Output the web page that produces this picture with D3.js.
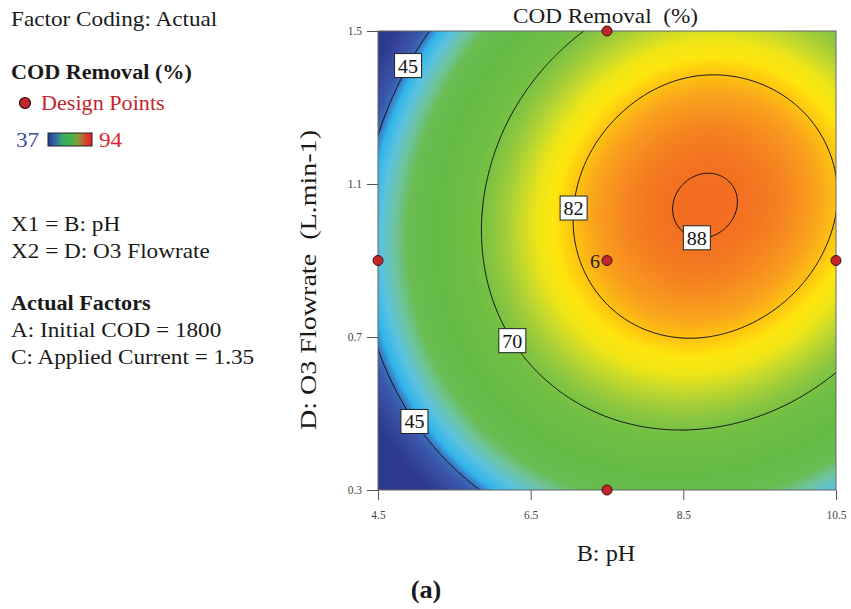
<!DOCTYPE html>
<html><head><meta charset="utf-8">
<script src="https://cdn.jsdelivr.net/npm/d3@7"></script>
<style>
body{margin:0;background:#fff;}
svg text{font-family:"Liberation Serif","Times New Roman",serif;white-space:pre;}
</style></head><body>
<svg id="chart" width="851" height="609"></svg>
<script>
// ---------------- DATA ----------------
const pHValues = [4.5, 5.5, 6.5, 7.5, 8.5, 9.5, 10.5];
const flowValues = [0.3, 0.5, 0.7, 0.9, 1.1, 1.3, 1.5];
// COD removal (%); rows follow flowValues, columns follow pHValues
const codRemoval = [
  [26.5, 41.1, 51.3, 57.3, 58.9, 56.2, 49.2],
  [38.3, 53.4, 64.1, 70.5, 72.6, 70.4, 63.9],
  [45.9, 61.4, 72.6, 79.5, 82.1, 80.3, 74.3],
  [49.1, 65.0, 76.8, 84.1, 87.2, 85.9, 80.4],
  [48.0, 64.4, 76.6, 84.5, 88.0, 87.2, 82.1],
  [42.5, 59.5, 72.2, 80.5, 84.5, 84.0, 79.0],
  [32.8, 50.2, 63.4, 72.2, 76.5, 76.0, 71.0]
];
const contourLevels = [45, 70, 82, 88];
const labelLevels = [45, 82, 88, 70, 45];
const labelPH = [4.79, 7.06, 8.70, 6.30, 5.02];
const labelFlow = [1.418, 1.035, 0.984, 0.697, 0.488];
const designPH = [4.5, 7.5, 7.5, 7.5, 10.5];
const designFlow = [0.9, 1.5, 0.9, 0.3, 0.9];
const designReplicates = [1, 1, 6, 1, 1];
const xTicks = [4.5, 6.5, 8.5, 10.5];
const yTicks = [0.3, 0.7, 1.1, 1.5];
const legendRange = [37, 94];
const sideLines = ["X1 = B: pH", "X2 = D: O3 Flowrate"];
const factorLines = ["A: Initial COD = 1800", "C: Applied Current = 1.35"];

// ---------------- STYLE ----------------
const colorStops = [37, 43, 45, 47, 50, 53, 56, 62, 68, 70, 72, 74, 76, 78, 80, 82, 84, 87, 89, 94];
const colorRange = ['#2e3a8f','#3a55a8','#3b6dbb','#30b5ea','#5cc2df','#6ec4a0','#6abd52','#65bb46','#6fbe44','#78c143','#8cc63f','#a6cf37','#c8da2b','#ede517','#ffe60d','#fdc211','#f9a01d','#f47a21','#f26522','#ed1c24'];
const color = d3.scaleLinear().domain(colorStops).range(colorRange).clamp(true).interpolate(d3.interpolateRgb);
const SX = 1.055; // horizontal text stretch

const svg = d3.select('#chart');
const plot = {left: 378, right: 836, top: 31, bottom: 490};
const x = d3.scaleLinear().domain([pHValues[0], pHValues[pHValues.length-1]]).range([plot.left, plot.right]);
const y = d3.scaleLinear().domain([flowValues[0], flowValues[flowValues.length-1]]).range([plot.bottom, plot.top]);

// ------------- surface (Catmull-Rom through grid values) -------------
function extend(Z) {
  const rows = Z.map(a => { const n = a.length; return [3*a[0]-3*a[1]+a[2], ...a, 3*a[n-1]-3*a[n-2]+a[n-3]]; });
  const m = rows[0].length, r = rows.length;
  const top = d3.range(m).map(i => 3*rows[0][i]-3*rows[1][i]+rows[2][i]);
  const bot = d3.range(m).map(i => 3*rows[r-1][i]-3*rows[r-2][i]+rows[r-3][i]);
  return [top, ...rows, bot];
}
const E = extend(codRemoval);
function cr(p0,p1,p2,p3,t){ return 0.5*(2*p1 + (-p0+p2)*t + (2*p0-5*p1+4*p2-p3)*t*t + (-p0+3*p1-3*p2+p3)*t*t*t); }
function surface(pH, flow) {
  const nx = pHValues.length, ny = flowValues.length;
  const sx = (pH - pHValues[0])/(pHValues[1]-pHValues[0]);
  const sy = (flow - flowValues[0])/(flowValues[1]-flowValues[0]);
  const i = Math.max(0, Math.min(nx-2, Math.floor(sx))), tx = sx - i;
  const j = Math.max(0, Math.min(ny-2, Math.floor(sy))), ty = sy - j;
  const col = [0,1,2,3].map(k => { const r = E[j+k]; return cr(r[i], r[i+1], r[i+2], r[i+3], tx); });
  return cr(col[0], col[1], col[2], col[3], ty);
}

// ------------- raster -------------
const pw = plot.right - plot.left, ph = plot.bottom - plot.top;
const canvas = document.createElement('canvas');
canvas.width = pw; canvas.height = ph;
const ctx = canvas.getContext('2d');
const img = ctx.createImageData(pw, ph);
const lutLo = 30, lutHi = 100;
const lut = d3.range(0, 1401).map(k => d3.rgb(color(lutLo + (lutHi-lutLo)*k/1400)));
for (let py = 0; py < ph; py++) {
  const fl = y.invert(plot.top + py + 0.5);
  for (let px = 0; px < pw; px++) {
    const v = surface(x.invert(plot.left + px + 0.5), fl);
    const k = Math.max(0, Math.min(1400, Math.round((v - lutLo)/(lutHi-lutLo)*1400)));
    const c = lut[k], o = (py*pw + px)*4;
    img.data[o] = c.r; img.data[o+1] = c.g; img.data[o+2] = c.b; img.data[o+3] = 255;
  }
}
ctx.putImageData(img, 0, 0);
svg.append('image').attr('x', plot.left).attr('y', plot.top).attr('width', pw).attr('height', ph)
  .attr('href', canvas.toDataURL());

// ------------- contours -------------
const pad = 8, nC = 240;
const ex0 = plot.left - pad, ex1 = plot.right + pad, ey0 = plot.top - pad, ey1 = plot.bottom + pad;
const cw = (ex1 - ex0)/nC, ch = (ey1 - ey0)/nC;
const vals = new Float64Array(nC*nC);
for (let j = 0; j < nC; j++) for (let i = 0; i < nC; i++)
  vals[j*nC + i] = surface(x.invert(ex0 + (i+0.5)*cw), y.invert(ey0 + (j+0.5)*ch));
const contours = d3.contours().size([nC, nC]).thresholds(contourLevels)(vals);
const toPx = (cx, cy) => [ex0 + cx*cw, ey0 + cy*ch];
const path = d3.geoPath(d3.geoTransform({point(cx, cy){ const p = toPx(cx, cy); this.stream.point(p[0], p[1]); }}));
const defs = svg.append('defs');
defs.append('clipPath').attr('id', 'plotclip').append('rect')
  .attr('x', plot.left).attr('y', plot.top).attr('width', pw).attr('height', ph);
svg.append('g').attr('clip-path', 'url(#plotclip)').selectAll('path').data(contours).join('path')
  .attr('d', path).attr('fill', 'none').attr('stroke', '#111').attr('stroke-width', 1);

// ------------- frame -------------
svg.append('rect').attr('x', plot.left).attr('y', plot.top).attr('width', pw).attr('height', ph)
  .attr('fill', 'none').attr('stroke', '#666').attr('stroke-width', 1);

// ------------- contour labels -------------
labelLevels.forEach((lv, li) => {
  const c = contours.find(d => d.value === lv);
  const tx = x(labelPH[li]), ty = y(labelFlow[li]);
  let best = null, bd = Infinity;
  c.coordinates.forEach(poly => poly.forEach(ring => ring.forEach(pt => {
    const p = toPx(pt[0], pt[1]);
    if (p[0] < plot.left || p[0] > plot.right || p[1] < plot.top || p[1] > plot.bottom) return;
    const d = (p[0]-tx)**2 + (p[1]-ty)**2;
    if (d < bd) { bd = d; best = p; }
  })));
  const g = svg.append('g').attr('transform', `translate(${best[0]},${best[1]})`);
  g.append('rect').attr('x', -13.5).attr('y', -12).attr('width', 27).attr('height', 24)
    .attr('fill', '#fff').attr('stroke', '#222').attr('stroke-width', 1);
  g.append('text').attr('text-anchor', 'middle').attr('y', 7).attr('font-size', 19)
    .attr('transform', `scale(${SX},1)`).attr('fill', '#111').text(lv);
});

// ------------- design points -------------
designPH.forEach((p, i) => {
  const cx = x(p), cy = y(designFlow[i]);
  svg.append('circle').attr('cx', cx).attr('cy', cy).attr('r', 5)
    .attr('fill', '#c1272d').attr('stroke', '#3d0a0a').attr('stroke-width', 1);
  if (designReplicates[i] > 1) {
    svg.append('text').attr('transform', `translate(${cx - 7},${cy + 7}) scale(${SX},1)`)
      .attr('text-anchor', 'end').attr('font-size', 19).attr('fill', '#222').text(designReplicates[i]);
  }
});

// ------------- axes -------------
function styleAxis(g) {
  g.select('.domain').remove();
  g.attr('font-family', '"Liberation Serif", serif');
  g.selectAll('line').attr('stroke', '#555');
  g.selectAll('text').attr('font-size', 11.5).attr('fill', '#444');
}
svg.append('g').attr('transform', `translate(0,${plot.bottom})`)
  .call(d3.axisBottom(x).tickValues(xTicks).tickSize(10).tickPadding(11).tickSizeOuter(0).tickFormat(d3.format('.1f')))
  .call(styleAxis);
svg.append('g').attr('transform', `translate(${plot.left},0)`)
  .call(d3.axisLeft(y).tickValues(yTicks).tickSize(11).tickPadding(5).tickSizeOuter(0).tickFormat(d3.format('.1f')))
  .call(styleAxis);

// ------------- texts -------------
function txt(xp, yp, s, size, opts = {}) {
  return svg.append('text').attr('transform', `translate(${xp},${yp}) scale(${SX},1)`)
    .attr('font-size', size).attr('font-weight', opts.bold ? 'bold' : 'normal')
    .attr('fill', opts.fill || '#1a1a1a').attr('text-anchor', opts.anchor || 'start').text(s);
}
txt(605.5, 23, 'COD Removal  (%)', 22, {anchor: 'middle'});
txt(606, 561, 'B: pH', 23, {anchor: 'middle'});
svg.append('text').attr('transform', `translate(316,280) rotate(-90)`)
  .attr('font-size', 23).attr('text-anchor', 'middle').attr('fill', '#1a1a1a')
  .attr('textLength', 300).attr('lengthAdjust', 'spacingAndGlyphs')
  .text('D: O3 Flowrate  (L.min-1)');
txt(426, 598, '(a)', 25, {anchor: 'middle', bold: true});

txt(11, 26, 'Factor Coding: Actual', 22);
txt(11, 79, 'COD Removal (%)', 21, {bold: true});
svg.append('circle').attr('cx', 25).attr('cy', 103).attr('r', 5.5)
  .attr('fill', '#c1272d').attr('stroke', '#2a0a0a').attr('stroke-width', 1.2);
txt(41, 110, 'Design Points', 21, {fill: '#c1272d'});
txt(16, 147, String(legendRange[0]), 22, {fill: '#3f4da0'});
txt(99, 147, String(legendRange[1]), 22, {fill: '#d9262b'});
const lgStops = [37, 45, 55, 65.5, 76, 86, 94];
const lgColors = ['#2b3990', '#2f5fb0', '#3aa56a', '#3cb54a', '#8a9a3a', '#d0452e', '#ed1c24'];
const lg = defs.append('linearGradient').attr('id', 'lgrad');
lgStops.forEach((v, k) => {
  lg.append('stop').attr('offset', `${(v - legendRange[0])/(legendRange[1]-legendRange[0])*100}%`).attr('stop-color', lgColors[k]);
});
svg.append('rect').attr('x', 48).attr('y', 133).attr('width', 44).attr('height', 13)
  .attr('fill', 'url(#lgrad)').attr('stroke', '#222').attr('stroke-width', 1);

sideLines.forEach((s, i) => txt(11, 231 + i*27, s, 22));
txt(11, 310, 'Actual Factors', 21, {bold: true});
factorLines.forEach((s, i) => txt(11, 337 + i*26.5, s, 22));
</script>
</body></html>
